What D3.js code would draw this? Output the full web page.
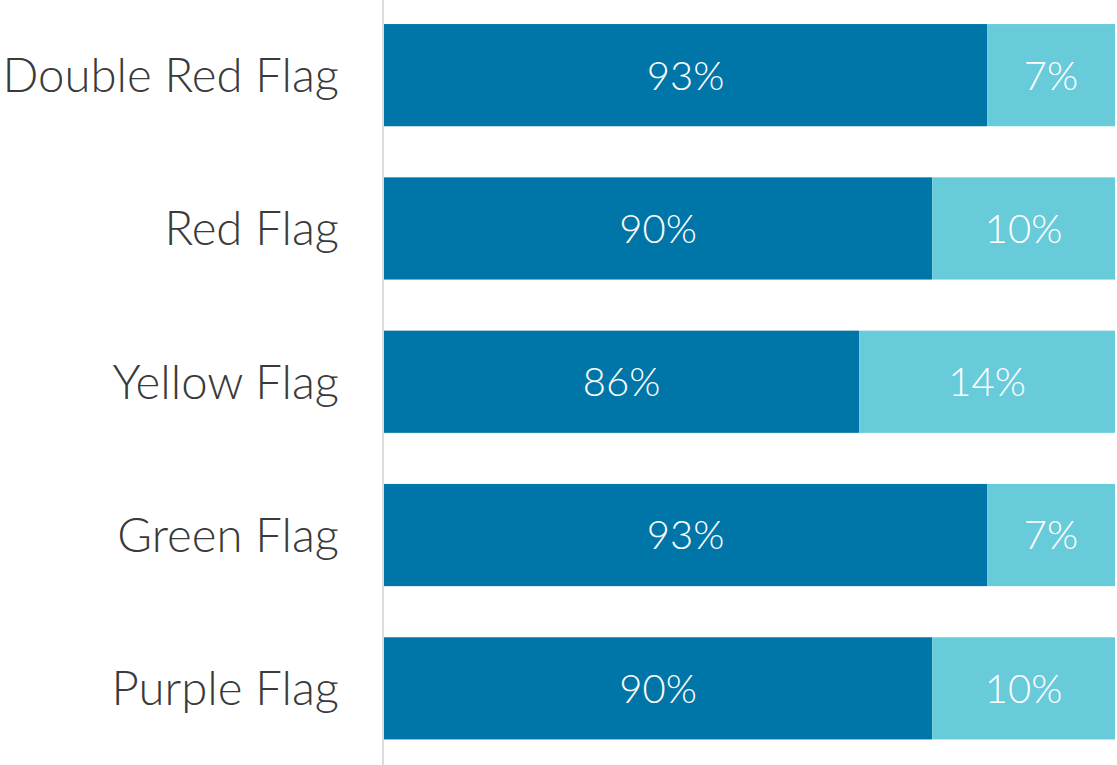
<!DOCTYPE html>
<html><head><meta charset="utf-8">
<script src="https://cdn.jsdelivr.net/npm/d3@7"></script>
<style>html,body{margin:0;padding:0;background:#fff;}svg{display:block;}</style>
</head><body>
<svg id="chart" width="1117" height="765"></svg>
<script>
const categories = ["Double Red Flag", "Red Flag", "Yellow Flag", "Green Flag", "Purple Flag"];
const yesValues = [93, 90, 86, 93, 90];
const noValues = [7, 10, 14, 7, 10];

const svg = d3.select("#chart");
const W = 1117, H = 765;
const x = d3.scaleLinear().domain([60, 100]).range([384, 1115]).clamp(true);
const y = d3.scaleBand().domain(categories).range([-1.5, 765]).paddingInner(1/3).paddingOuter(1/6);
const font = "Lato, 'Open Sans', sans-serif";

const rows = categories.map((c, i) => ({c, yes: yesValues[i], no: noValues[i]}));
const g = svg.append("g");
rows.forEach(d => {
  const x0 = x(0), x1 = x(d.yes), x2 = x(d.yes + d.no);
  g.append("rect").attr("x", x0).attr("y", y(d.c)).attr("width", x1 - x0).attr("height", y.bandwidth()).attr("fill", "#0076A8");
  g.append("rect").attr("x", x1).attr("y", y(d.c)).attr("width", x2 - x1).attr("height", y.bandwidth()).attr("fill", "#68CBDA");
  g.append("text").attr("x", (x0 + x1) / 2).attr("y", y(d.c) + y.bandwidth() / 2).attr("dy", "0.36em")
    .attr("text-anchor", "middle").attr("fill", "#fff").style("font-family", font).style("font-weight", 300).style("font-size", "40px")
    .text(d.yes + "%");
  g.append("text").attr("x", (x1 + x2) / 2).attr("y", y(d.c) + y.bandwidth() / 2).attr("dy", "0.36em")
    .attr("text-anchor", "middle").attr("fill", "#fff").style("font-family", font).style("font-weight", 300).style("font-size", "40px")
    .text(d.no + "%");
});

const yAxis = svg.append("g").attr("transform", "translate(383,0)").call(d3.axisLeft(y).tickSize(0).tickPadding(44));
yAxis.select(".domain").remove();
svg.append("line").attr("x1", 383).attr("x2", 383).attr("y1", 0).attr("y2", H).attr("stroke", "#dcdcdc").attr("stroke-width", 2);
yAxis.selectAll("text").attr("fill", "#3a3a3a").style("font-family", font).style("font-weight", 300).style("font-size", "47.3px").attr("dy", "0.36em");
</script>
</body></html>
